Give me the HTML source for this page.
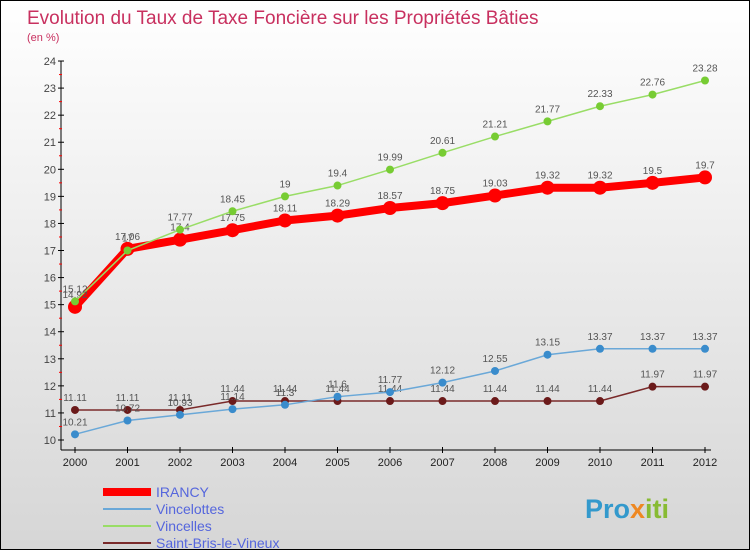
<!DOCTYPE html>
<html><head><meta charset="utf-8"><style>
body{margin:0;width:750px;height:550px;overflow:hidden;font-family:"Liberation Sans",sans-serif}
#wrap{position:relative;width:748px;height:548px;border:1px solid #000;background:linear-gradient(#fff,#d6d6d6)}
</style></head><body>
<div id="wrap">
<svg id="chart" width="748" height="548" style="position:absolute;left:0;top:0"></svg>
</div>
<script>
const years=["2000","2001","2002","2003","2004","2005","2006","2007","2008","2009","2010","2011","2012"];
const irancy=[14.92,17.06,17.4,17.75,18.11,18.29,18.57,18.75,19.03,19.32,19.32,19.5,19.7];
const vincelottes=[10.21,10.72,10.93,11.14,11.3,11.6,11.77,12.12,12.55,13.15,13.37,13.37,13.37];
const vincelles=[15.12,17.0,17.77,18.45,19,19.4,19.99,20.61,21.21,21.77,22.33,22.76,23.28];
const saintBris=[11.11,11.11,11.11,11.44,11.44,11.44,11.44,11.44,11.44,11.44,11.44,11.97,11.97];
const yTicks=[10,11,12,13,14,15,16,17,18,19,20,21,22,23,24];
const NS="http://www.w3.org/2000/svg";
const svg=document.getElementById('chart');
const X=i=>74+i*52.5, Y=v=>439-(v-10)*27.07;
function mk(t,a,txt){const e=document.createElementNS(NS,t);for(const k in a)e.setAttribute(k,a[k]);if(txt!==undefined)e.textContent=txt;svg.appendChild(e);return e;}
let e;
e=mk('text',{x:26,y:23,fill:'#c8305f','font-size':19},'Evolution du Taux de Taxe Foncière sur les Propriétés Bâties');


e=mk('text',{x:26,y:40,fill:'#c8305f','font-size':11},'(en %)');


e=mk('line',{x1:60,y1:60,x2:60,y2:449,stroke:'#000'});


e=mk('line',{x1:60,y1:449,x2:710,y2:449,stroke:'#000'});


yTicks.forEach(v=>{
 mk('line',{x1:57,y1:Y(v),x2:63,y2:Y(v),stroke:'#000'});
 if(v<24)mk('line',{x1:58,y1:Y(v+0.5),x2:61,y2:Y(v+0.5),stroke:'#f00'});
 e=mk('text',{x:55,y:Y(v)+4,'text-anchor':'end','font-size':11,fill:'#444'},v);
 
 
});
years.forEach((y,i)=>{
 mk('line',{x1:X(i),y1:446,x2:X(i),y2:452,stroke:'#000'});
 e=mk('text',{x:X(i),y:465,'text-anchor':'middle','font-size':11,fill:'#222'},y);
 
 
});
function series(vals,color,w,r,name,dark){
 const g=document.createElementNS(NS,'g');svg.appendChild(g);
 
 
 const p=document.createElementNS(NS,'polyline');
 p.setAttribute('points',vals.map((v,i)=>X(i)+','+Y(v)).join(' '));
 p.setAttribute('fill','none');p.setAttribute('stroke',color);p.setAttribute('stroke-width',w);
 g.appendChild(p);
 vals.forEach((v,i)=>{
  const c=document.createElementNS(NS,'circle');
  c.setAttribute('cx',X(i));c.setAttribute('cy',Y(v));c.setAttribute('r',r);
  c.setAttribute('fill',dark||color);
  
  
  g.appendChild(c);
  const t=document.createElementNS(NS,'text');
  t.setAttribute('x',X(i));t.setAttribute('y',Y(v)-9);t.setAttribute('text-anchor','middle');
  t.setAttribute('font-size',10);t.setAttribute('fill','#555');t.textContent=v;
  
  
  g.appendChild(t);
 });
}
series(saintBris,'#7a2a2a',1.5,4,'series-saint-bris','#6b1a1a');
series(vincelottes,'#6aa8d8',1.5,4,'series-vincelottes','#3a8ccc');
series(irancy,'#ff0000',8,7,'series-irancy');
series(vincelles,'#99dd66',1.5,4,'series-vincelles','#77cc33');
const legend=[["IRANCY","#ff0000",8],["Vincelottes","#6aa8d8",2],["Vincelles","#99dd66",2],["Saint-Bris-le-Vineux","#7a2a2a",2]];
legend.forEach((l,i)=>{
 const y=491+i*17;
 e=mk('line',{x1:102,y1:y,x2:150,y2:y,stroke:l[1],'stroke-width':l[2]});
 
 
 e=mk('text',{x:155,y:y+5,'font-size':14,fill:'#5566dd'},l[0]);
 
 
});
e=mk('text',{x:584,y:517,'font-size':27,'font-weight':'bold',fill:'#3399cc'});
e.innerHTML='Pro<tspan fill="#ee8822">x</tspan><tspan fill="#88bb33">iti</tspan>';


</script>
</body></html>
